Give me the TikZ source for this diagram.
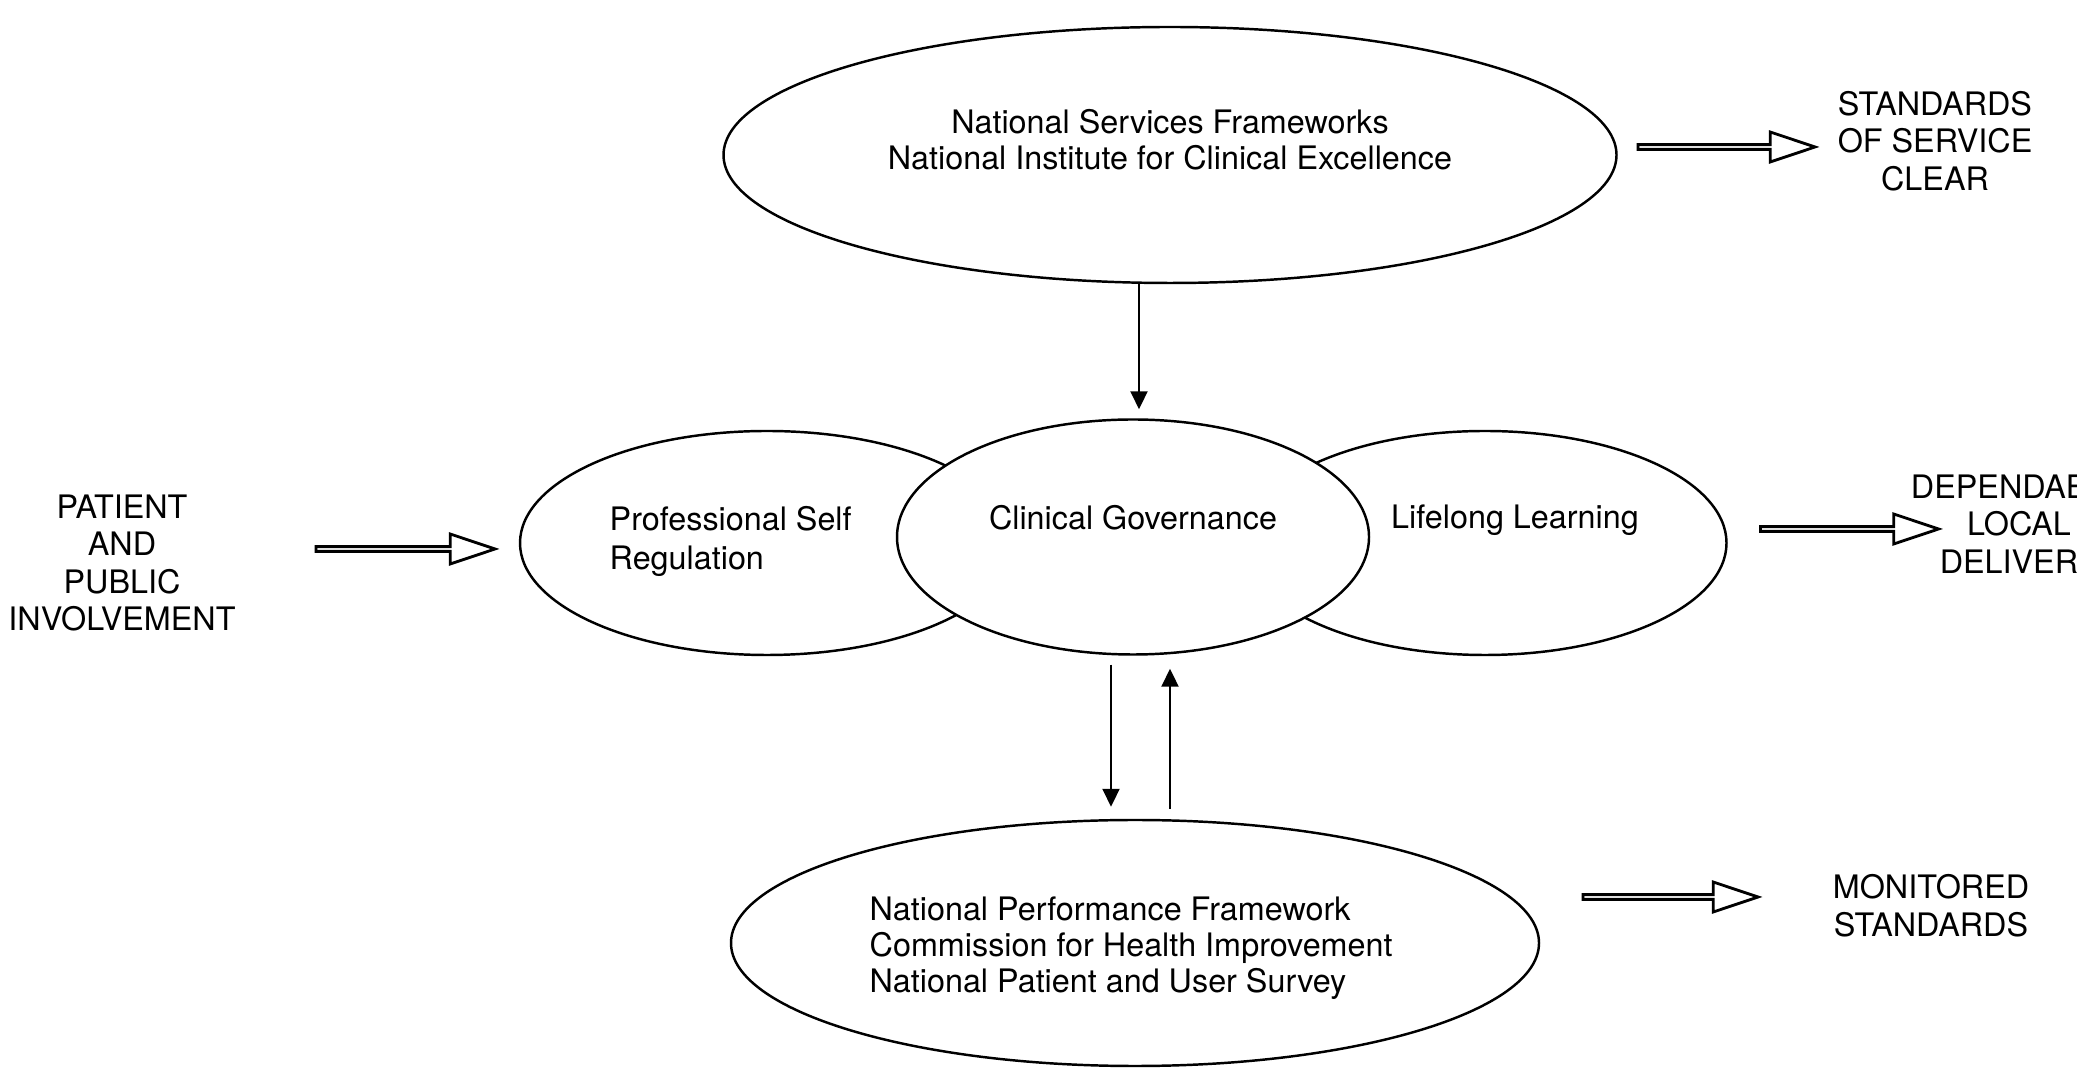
\documentclass[tikz,border=0pt]{standalone}
\usepackage{fontspec}
\setmainfont{TeX Gyre Heros}
\usetikzlibrary{arrows.meta,shapes.geometric,shapes.arrows,positioning}

\begin{document}
\begin{tikzpicture}[x=0.1mm, y=-0.1mm, >={Triangle[length=1.8mm,width=1.7mm]},
    ell/.style={ellipse, draw, line width=0.7pt, inner sep=0pt},
    txt/.style={inner sep=0pt, align=center, font=\fontsize{9.2}{10.3}\selectfont},
    caps/.style={inner sep=0pt, align=center, font=\fontsize{9.2}{10.7}\selectfont},
    fat/.style={single arrow, draw, line width=0.8pt, inner sep=0pt, minimum height=17.8mm,
        minimum width=3mm, single arrow head extend=0.75mm, single arrow tip angle=37,
        single arrow head indent=0pt}]
    \useasboundingbox (0,0) rectangle (2100,1077);

    % Ellipses {nsf, psr, lll, cg, npf}
    \node [ell, minimum width=89.3mm, minimum height=25.6mm] (nsf) at (1170,155) {};
    \node [ell, minimum width=49.4mm, minimum height=22.4mm] (psr) at (767,543) {};
    \node [ell, minimum width=48.3mm, minimum height=22.4mm] (lll) at (1485,543) {};
    \node [ell, fill=white, minimum width=47.2mm, minimum height=23.5mm] (cg) at (1133,537) {};
    \node [ell, minimum width=80.8mm, minimum height=24.6mm] (npf) at (1135,943) {};

    % Texts in the ellipses
    \node [txt] (nsftxt) at (1170,140) {National Services Frameworks\\National Institute for Clinical Excellence};
    \node [txt] (cgtxt) at (1133,518) {Clinical Governance};
    \node [txt, anchor=west, align=left, font=\fontsize{9.2}{11.1}\selectfont] (psrtxt) at (609,541) {Professional Self\\Regulation};
    \node [txt] (llltxt) at (1515,520) {Lifelong Learning};
    \node [txt, anchor=west, align=left] (npftxt) at (869,948) {National Performance Framework\\Commission for Health Improvement\\National Patient and User Survey};

    % Outside labels
    \node [caps] (ppi) at (122,563) {PATIENT\\AND\\PUBLIC\\INVOLVEMENT};
    \node [caps] (ssc) at (1935,141) {STANDARDS\\OF SERVICE\\CLEAR};
    \node [caps] (mst) at (1931,906) {MONITORED\\STANDARDS};
    \begin{scope}
        \clip (0,0) rectangle (2076,1077);
        \node [caps] (dld) at (2019,524) {DEPENDABLE\\LOCAL\\DELIVERY};
    \end{scope}

    % Block arrows
    \node [fat, minimum height=17.9mm] (ppiarr) at (402,549) {};
    \node [fat, minimum height=17.7mm] (sscarr) at (1723,147) {};
    \node [fat] (dldarr) at (1846,529) {};
    \node [fat, minimum height=17.5mm] (mstarr) at (1667,897) {};

    % Paths
    \coordinate (in) at (1139,0);
    \coordinate (dn) at (1111,0);
    \coordinate (up) at (1170,0);
    \path [->, line width=0.6pt] (nsf.south -| in) edge [shorten >=0.9mm] (cg.north -| in);
    \path [->, line width=0.6pt] (cg.south -| dn) edge [shorten <=0.9mm, shorten >=1.2mm] (npf.north -| dn);
    \path [->, line width=0.6pt] (npf.north -| up) edge [shorten <=1.0mm, shorten >=1.3mm] (cg.south -| up);

\end{tikzpicture}
\end{document}
